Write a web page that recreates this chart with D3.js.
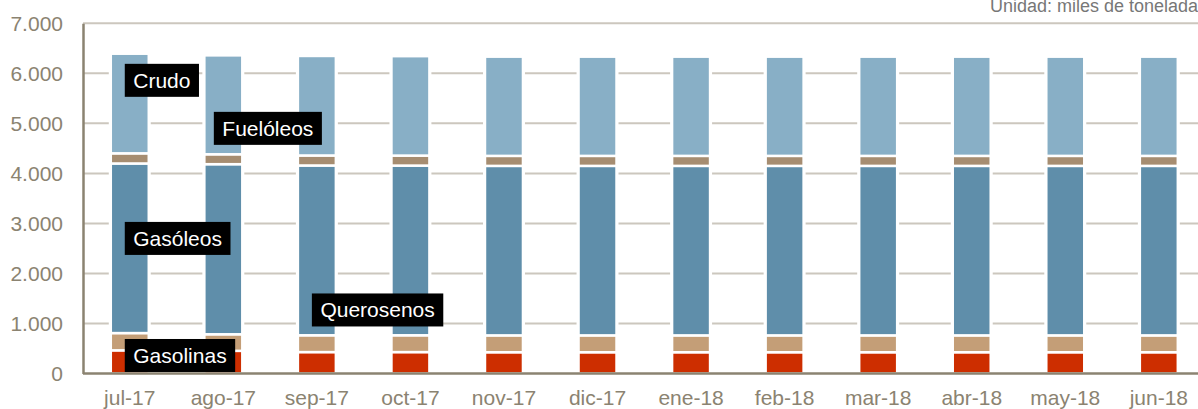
<!DOCTYPE html>
<html><head><meta charset="utf-8">
<script src="https://cdn.jsdelivr.net/npm/d3@7"></script>
<style>html,body{margin:0;padding:0;background:#fff;overflow:hidden}</style>
</head><body>
<svg id="c" width="1198" height="409"></svg>
<script>
const months = ["jul-17","ago-17","sep-17","oct-17","nov-17","dic-17","ene-18","feb-18","mar-18","abr-18","may-18","jun-18"];
const gasolinas  = [463, 453, 428, 428, 425, 425, 425, 425, 425, 425, 425, 425];
const querosenos = [345, 331, 336, 336, 337, 337, 337, 337, 337, 337, 337, 337];
const gasoleos   = [3390, 3400, 3394, 3392, 3388, 3388, 3388, 3388, 3388, 3388, 3388, 3388];
const fueloleos  = [203, 198, 200, 200, 200, 200, 200, 200, 200, 200, 200, 200];
const crudo      = [1991, 1977, 1989, 1987, 1983, 1983, 1983, 1983, 1983, 1983, 1983, 1983];
const yTicks = [0, 1000, 2000, 3000, 4000, 5000, 6000, 7000];
const seriesNames = ["Gasolinas","Querosenos","Gasóleos","Fuelóleos","Crudo"];
const seriesColors = ["#cd2e00","#c49e77","#5f8eaa","#a68d71","#88afc6"];
const unitText = "Unidad: miles de toneladas";

const table = months.map((m,i)=>({month:m, Gasolinas:gasolinas[i], Querosenos:querosenos[i], "Gasóleos":gasoleos[i], "Fuelóleos":fueloleos[i], Crudo:crudo[i]}));

const svg = d3.select("#c");
const plotLeft = 83, plotBottom = 373.5, plotTop = 23.3, plotRight = 1205.6;
const x = d3.scaleBand().domain(months).range([plotLeft, plotRight]).paddingInner(0.594).paddingOuter(0.297);
const y = d3.scaleLinear().domain([0, 7000]).range([plotBottom, plotTop]);
const font = "'Liberation Sans', Arial, sans-serif";
const axisCol = "#8b8371";

// gridlines
svg.append("g").selectAll("line").data(yTicks.filter(d=>d>0)).join("line")
  .attr("x1", plotLeft).attr("x2", 1198).attr("y1", d=>y(d)).attr("y2", d=>y(d))
  .attr("stroke", "#ccc7be").attr("stroke-width", 2);

// white backdrops behind bars to cut gridlines
const stack = d3.stack().keys(seriesNames)(table);
const totals = table.map(d=>d3.sum(seriesNames, k=>d[k]));
svg.append("g").selectAll("rect").data(table).join("rect")
  .attr("x", d=>x(d.month)-2).attr("width", x.bandwidth()+4)
  .attr("y", (d,i)=>y(totals[i])-2).attr("height", (d,i)=>plotBottom-y(totals[i])+2)
  .attr("fill", "#fff");

// bars
svg.append("g").selectAll("g").data(stack).join("g")
  .attr("fill", (d,i)=>seriesColors[i])
  .selectAll("rect").data(d=>d).join("rect")
  .attr("x", d=>x(d.data.month)).attr("width", x.bandwidth())
  .attr("y", d=>y(d[1])).attr("height", d=>y(d[0])-y(d[1]))
  .attr("stroke", "#fff").attr("stroke-width", 2.5);

// y axis
const yAxis = d3.axisLeft(y).tickValues(yTicks).tickSize(0).tickPadding(20)
  .tickFormat(d=>d3.format(",")(d).replace(/,/g,"."));
const ya = svg.append("g").attr("transform", `translate(${plotLeft},0)`).call(yAxis);
ya.select(".domain").attr("stroke", axisCol).attr("stroke-width", 2.5);
ya.selectAll("text").attr("font-family", font).attr("font-size", 21).attr("fill", axisCol);

// x axis
const xAxis = d3.axisBottom(x).tickSize(0).tickPadding(0);
const xa = svg.append("g").attr("transform", `translate(0,${plotBottom})`).call(xAxis);
xa.select(".domain").attr("stroke", axisCol).attr("stroke-width", 2.5).attr("d", `M${plotLeft},0H1198`);
xa.selectAll("text").attr("font-family", font).attr("font-size", 21).attr("fill", axisCol)
  .attr("dy", null).attr("y", 31);

// unit text
svg.append("text").attr("x", 990).attr("y", 12).text(unitText)
  .attr("font-family", font).attr("font-size", 18).attr("fill", "#777");

// series labels
const labels = [
  {name:"Crudo", month:"jul-17", dx:-5, v:5860},
  {name:"Fuelóleos", month:"ago-17", dx:-9.5, v:4900},
  {name:"Gasóleos", month:"jul-17", dx:-5, v:2700},
  {name:"Querosenos", month:"sep-17", dx:-5, v:1270},
  {name:"Gasolinas", month:"jul-17", dx:-5, v:360}
];
const lg = svg.append("g");
labels.forEach(l=>{
  const g = lg.append("g");
  const cx = x(l.month) + x.bandwidth()/2 + l.dx;
  const cy = y(l.v);
  const r = g.append("rect").attr("fill", "#000");
  const t = g.append("text").attr("x", cx+8.5).attr("y", cy+7.5).text(l.name)
    .attr("font-family", font).attr("font-size", 21).attr("fill", "#fff");
  const w = t.node().getComputedTextLength();
  r.attr("x", cx).attr("y", cy-16.5).attr("width", w+17).attr("height", 33);
});
</script>
</body></html>
